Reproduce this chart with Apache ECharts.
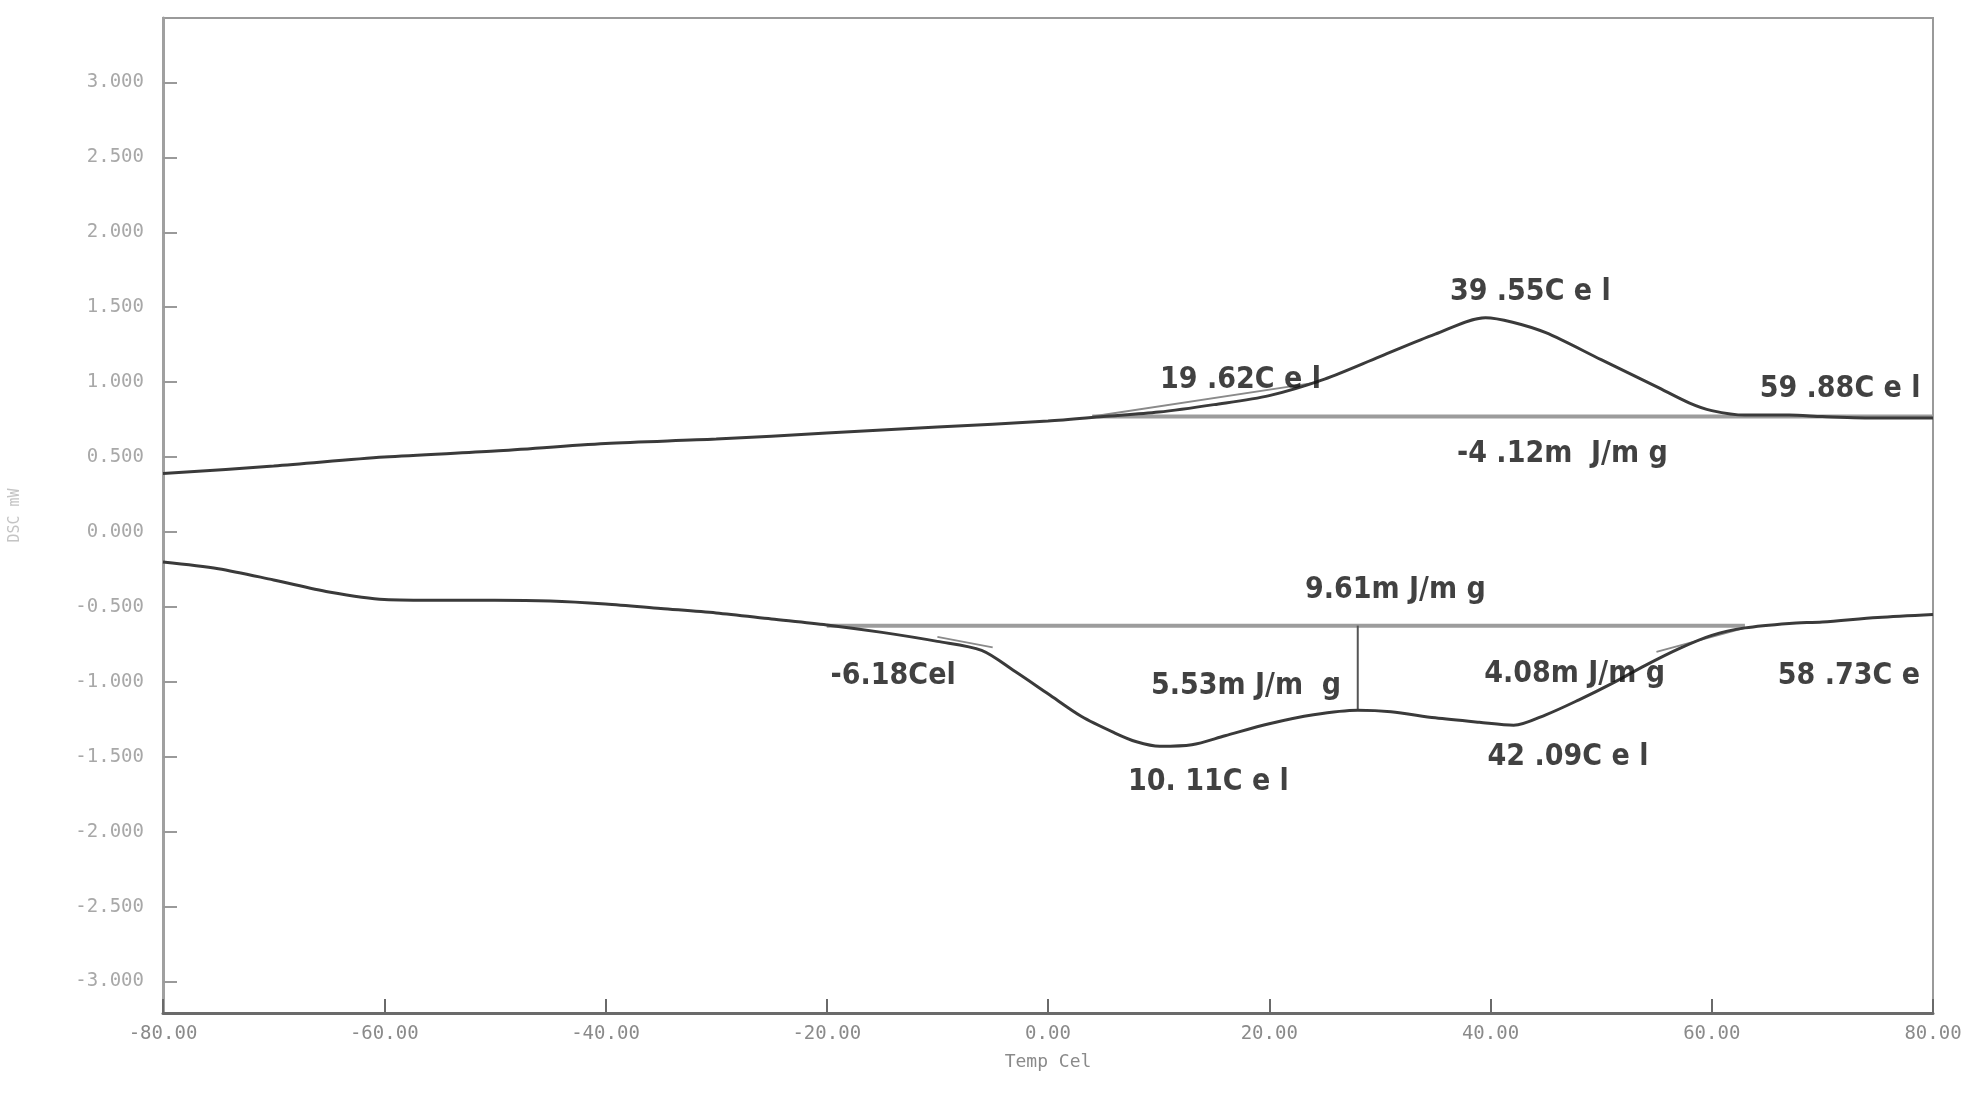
<!DOCTYPE html>
<html>
<head>
<meta charset="utf-8">
<script src="https://cdn.jsdelivr.net/npm/echarts@6/dist/echarts.min.js"></script>
<style>
html, body { margin: 0; padding: 0; background: #fff; }
#main { width: 1984px; height: 1096px; }
</style>
</head>
<body>
<div id="main"></div>
<script>
// heating run (upper curve)
var heatTemp = [-80, -70, -60, -50, -40, -30, -20, -10, 0, 5, 10, 15, 20, 25, 30, 35, 39.55, 42, 45, 50, 55, 58, 60, 63, 67, 70, 75, 80]
var heatDsc = [0.39, 0.44, 0.50, 0.54, 0.59, 0.62, 0.66, 0.70, 0.74, 0.77, 0.80, 0.85, 0.91, 1.02, 1.17, 1.32, 1.43, 1.40, 1.33, 1.15, 0.97, 0.86, 0.81, 0.78, 0.78, 0.77, 0.76, 0.76]

// cooling run (lower curve)
var coolTemp = [-80, -75, -70, -65, -60, -55, -50, -45, -40, -35, -30, -25, -20, -15, -10, -6, -3, 0, 3, 6, 8, 10.11, 13, 16, 20, 24, 28, 31, 35, 39, 42.09, 45, 48, 51, 54, 57, 60, 63, 67, 70, 75, 80]
var coolDsc = [-0.20, -0.245, -0.32, -0.40, -0.45, -0.455, -0.455, -0.46, -0.48, -0.51, -0.54, -0.58, -0.62, -0.67, -0.73, -0.79, -0.93, -1.08, -1.23, -1.34, -1.40, -1.43, -1.42, -1.36, -1.28, -1.22, -1.19, -1.20, -1.24, -1.27, -1.29, -1.22, -1.12, -1.01, -0.89, -0.78, -0.69, -0.64, -0.61, -0.60, -0.57, -0.55]

// baselines and partial-area divider
var heatBaseTemp = [4, 80]
var heatBaseDsc = [0.77, 0.77]
var coolBaseTemp = [-20, 63]
var coolBaseDsc = [-0.625, -0.625]
var dropTemp = [28, 28]
var dropDsc = [-0.625, -1.19]

// onset tangent marks
var tangentA_Temp = [4, 24.5]
var tangentA_Dsc = [0.77, 1.0]
var tangentB_Temp = [55, 63]
var tangentB_Dsc = [-0.80, -0.64]
var tangentC_Temp = [-10, -5]
var tangentC_Dsc = [-0.70, -0.77]

var yTicks = [-3, -2.5, -2, -1.5, -1, -0.5, 0, 0.5, 1, 1.5, 2, 2.5, 3]

// annotations
var noteTemp = [43.6, 17.4, 71.6, 46.5, 31.4, -14, 17.9, 47.6, 72.4, 14.5, 47]
var noteDsc = [1.60, 1.01, 0.95, 0.52, -0.39, -0.96, -1.03, -0.95, -0.96, -1.67, -1.50]
var noteText = ['39 .55C e l', '19 .62C e l', '59 .88C e l', '-4 .12m  J/m g', '9.61m J/m g', '-6.18Cel', '5.53m J/m  g', '4.08m J/m g', '58 .73C e', '10. 11C e l', '42 .09C e l']

function pairs(xs, ys) {
    var out = []
    for (var i = 0; i < xs.length; i++) {
        out.push([xs[i], ys[i]])
    }
    return out
}

function lineSeries(xs, ys, color, width, smooth) {
    return {
        type: 'line',
        data: pairs(xs, ys),
        showSymbol: false,
        symbol: 'none',
        smooth: smooth,
        silent: true,
        lineStyle: { color: color, width: width },
        z: 3
    }
}

var notes = []
for (var i = 0; i < noteText.length; i++) {
    notes.push([noteTemp[i], noteDsc[i], noteText[i]])
}

var myChart = echarts.init(document.getElementById('main'))

var option = {
    animation: false,
    backgroundColor: '#fff',
    grid: {
        left: 161, right: 51, top: 18, bottom: 83,
        show: true, borderColor: '#9a9a9a', borderWidth: 2
    },
    xAxis: {
        type: 'value',
        min: -80, max: 80, interval: 20,
        name: 'Temp Cel',
        nameLocation: 'middle',
        nameGap: 40,
        nameTextStyle: { color: '#8a8a8a', fontSize: 18, fontFamily: 'DejaVu Sans Mono' },
        axisLine: { onZero: false, lineStyle: { color: '#6a6a6a', width: 3 } },
        axisTick: { inside: true, length: 14, lineStyle: { color: '#6a6a6a', width: 2 } },
        axisLabel: {
            color: '#8a8a8a', fontSize: 19, fontFamily: 'DejaVu Sans Mono', margin: 12,
            formatter: function(v) { return v.toFixed(2) }
        },
        splitLine: { show: false }
    },
    yAxis: {
        type: 'value',
        min: -3.21, max: 3.43,
        name: 'DSC mW',
        nameLocation: 'middle',
        nameGap: 140,
        nameTextStyle: { color: '#c4c4c4', fontSize: 15, fontFamily: 'DejaVu Sans Mono' },
        axisLine: { show: true, onZero: false, lineStyle: { color: '#a0a0a0', width: 3 } },
        axisTick: { inside: true, length: 14, customValues: yTicks, lineStyle: { color: '#9a9a9a', width: 2 } },
        axisLabel: {
            color: '#a8a8a8', fontSize: 19, fontFamily: 'DejaVu Sans Mono', margin: 19,
            customValues: yTicks,
            formatter: function(v) { return v.toFixed(3) }
        },
        splitLine: { show: false }
    },
    series: [
        lineSeries(heatBaseTemp, heatBaseDsc, '#9c9c9c', 4, false),
        lineSeries(coolBaseTemp, coolBaseDsc, '#9c9c9c', 4, false),
        lineSeries(dropTemp, dropDsc, '#555', 2, false),
        lineSeries(tangentA_Temp, tangentA_Dsc, '#8a8a8a', 2, false),
        lineSeries(tangentB_Temp, tangentB_Dsc, '#8a8a8a', 2, false),
        lineSeries(tangentC_Temp, tangentC_Dsc, '#8a8a8a', 2, false),
        lineSeries(heatTemp, heatDsc, '#3a3a3a', 3, 0.3),
        lineSeries(coolTemp, coolDsc, '#3a3a3a', 3, 0.3),
        {
            type: 'scatter',
            data: notes,
            symbolSize: 0,
            silent: true,
            z: 5,
            label: {
                show: true,
                position: 'inside',
                color: '#111',
                fontSize: 30,
                fontWeight: 'bold',
                fontFamily: 'DejaVu Sans Condensed',
                formatter: function(p) { return p.data[2] }
            }
        }
    ]
}
myChart.setOption(option)
</script>
</body>
</html>
